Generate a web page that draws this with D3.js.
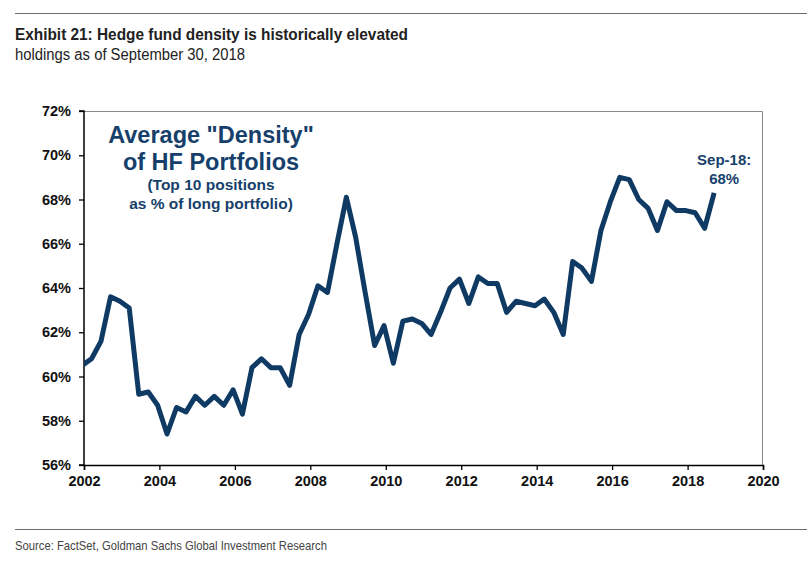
<!DOCTYPE html>
<html>
<head>
<meta charset="utf-8">
<script src="https://cdn.jsdelivr.net/npm/d3@7"></script>
<style>
  body { margin: 0; background: #fff; }
  svg { display: block; }
</style>
</head>
<body>
<div id="chart"></div>
<script>
// quarterly readings, Dec-2001 .. Sep-2018
var startQuarter = new Date(2001, 11, 15);
var density = [
  60.5, 60.8, 61.6, 63.6, 63.4, 63.1, 59.2, 59.3, 58.7, 57.4,
  58.6, 58.4, 59.1, 58.7, 59.1, 58.7, 59.4, 58.3, 60.4, 60.8,
  60.4, 60.4, 59.6, 61.9, 62.8, 64.1, 63.8, 66.0, 68.1, 66.3,
  63.8, 61.4, 62.3, 60.6, 62.5, 62.6, 62.4, 61.9, 62.9, 64.0,
  64.4, 63.3, 64.5, 64.2, 64.2, 62.9, 63.4, 63.3, 63.2, 63.5,
  62.9, 61.9, 65.2, 64.9, 64.3, 66.6, 67.9, 69.0, 68.9, 68.0,
  67.6, 66.6, 67.9, 67.5, 67.5, 67.4, 66.7, 68.3
];
var quarters = density.map(function(d, i) { return d3.timeMonth.offset(startQuarter, i * 3); });
var yearTicks = [2002, 2004, 2006, 2008, 2010, 2012, 2014, 2016, 2018, 2020];
var pctTicks = [56, 58, 60, 62, 64, 66, 68, 70, 72];

var W = 807, H = 561;
var margin = {top: 111, right: 44, bottom: 96, left: 84},
    width = W - margin.left - margin.right,
    height = H - margin.top - margin.bottom;

var navy = "#0f3a63";
var arial = "'Liberation Sans', Arial, sans-serif";

var svg = d3.select("#chart").append("svg")
    .attr("width", W)
    .attr("height", H);

// header / footer rules
svg.append("line").attr("x1", 15).attr("x2", W).attr("y1", 13.5).attr("y2", 13.5)
    .attr("stroke", "#6d6d6d").attr("stroke-width", 1);
svg.append("line").attr("x1", 15).attr("x2", W).attr("y1", 529.5).attr("y2", 529.5)
    .attr("stroke", "#6d6d6d").attr("stroke-width", 1);

// condensed look: squeeze Liberation Sans to the reference widths
function narrowText(xPos, yPos, size, weight, fill, len, str) {
    return svg.append("text").attr("x", xPos).attr("y", yPos)
        .style("font-family", arial).style("font-weight", weight).style("font-size", size)
        .attr("fill", fill)
        .attr("textLength", len).attr("lengthAdjust", "spacingAndGlyphs")
        .text(str);
}
narrowText(15, 40, "17px", 700, "#222", 393, "Exhibit 21: Hedge fund density is historically elevated");
narrowText(15, 60, "16px", 400, "#222", 230, "holdings as of September 30, 2018");
narrowText(15, 550, "13px", 400, "#444", 312, "Source: FactSet, Goldman Sachs Global Investment Research");

var g = svg.append("g")
    .attr("transform", "translate(" + margin.left + "," + margin.top + ")");

var x = d3.scaleTime()
    .domain([new Date(2002, 0, 1), new Date(2020, 0, 1)])
    .range([0, width]);

var y = d3.scaleLinear()
    .domain([56, 72])
    .range([height, 0]);

// frame (top & right)
g.append("path")
    .attr("d", "M0,0.5H" + (width - 0.5) + "V" + height)
    .attr("fill", "none").attr("stroke", "#8a8a8a").attr("stroke-width", 1);

var xAxis = g.append("g")
    .attr("transform", "translate(0," + height + ")")
    .call(d3.axisBottom(x)
        .tickValues(yearTicks.map(function(yr) { return new Date(yr, 0, 1); }))
        .tickFormat(d3.timeFormat("%Y"))
        .tickSize(5).tickPadding(6));

var yAxis = g.append("g")
    .call(d3.axisLeft(y)
        .tickValues(pctTicks)
        .tickFormat(function(d) { return d + "%"; })
        .tickSize(5).tickPadding(8));

[xAxis, yAxis].forEach(function(a) {
    a.select(".domain").attr("stroke", "#000").attr("stroke-width", 1.5);
    a.selectAll(".tick line").attr("stroke", "#000").attr("stroke-width", 1.3);
    a.selectAll("text")
        .style("font-family", arial).style("font-weight", 700).style("font-size", "14.5px")
        .attr("fill", "#111");
});
yAxis.select(".domain").attr("d", "M-5," + height + "H0V0H-5");

var line = d3.line()
    .x(function(d, i) { return x(quarters[i]); })
    .y(function(d) { return y(d); });

g.append("clipPath").attr("id", "plotclip")
    .append("rect").attr("x", 0).attr("y", -10).attr("width", width).attr("height", height + 10);

g.append("path")
    .datum(density)
    .attr("clip-path", "url(#plotclip)")
    .attr("d", line)
    .attr("fill", "none")
    .attr("stroke", navy)
    .attr("stroke-width", 5)
    .attr("stroke-linejoin", "round");

// annotations
var note = svg.append("g")
    .style("font-family", arial).style("font-weight", 700)
    .attr("fill", "#173f6b").attr("text-anchor", "middle");
note.append("text").attr("x", 211).attr("y", 143).style("font-size", "23.5px").text('Average "Density"');
note.append("text").attr("x", 211).attr("y", 170).style("font-size", "23.5px").text("of HF Portfolios");
note.append("text").attr("x", 211).attr("y", 190).style("font-size", "15.5px").text("(Top 10 positions");
note.append("text").attr("x", 211).attr("y", 209).style("font-size", "15.5px").text("as % of long portfolio)");

var last = density.length - 1;
note.append("text").attr("x", margin.left + x(quarters[last]) + 10).attr("y", 165)
    .style("font-size", "15px").text(d3.timeFormat("%b-%y")(quarters[last]) + ":");
note.append("text").attr("x", margin.left + x(quarters[last]) + 10).attr("y", 184)
    .style("font-size", "15px").text(Math.round(density[last]) + "%");
</script>
</body>
</html>
